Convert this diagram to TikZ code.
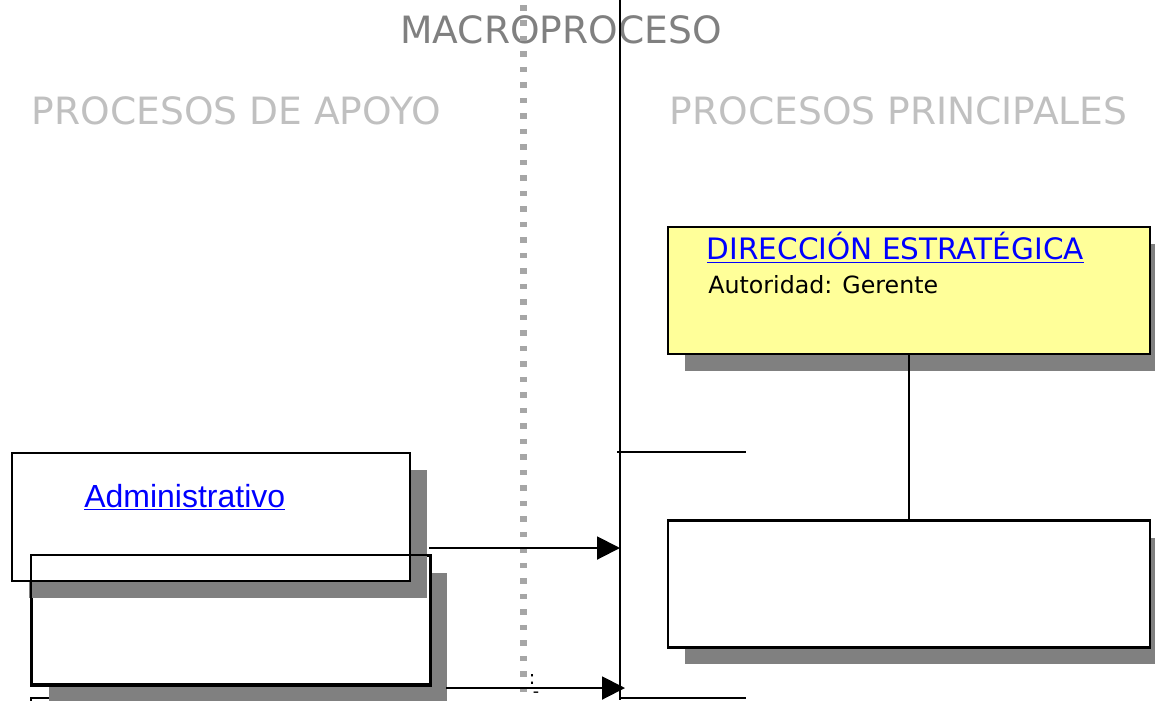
\documentclass[tikz,border=0pt]{standalone}
\usepackage{fontspec}
\setmainfont{DejaVu Sans}
\newfontfamily\arialfont{Liberation Sans}
\definecolor{mpyellow}{RGB}{255,255,153}
\definecolor{mpshadow}{RGB}{128,128,128}
\definecolor{mptitle}{RGB}{128,128,128}
\definecolor{mpsub}{RGB}{192,192,192}
\definecolor{mpdots}{RGB}{166,166,166}
\definecolor{mplink}{RGB}{0,0,255}
\usetikzlibrary{arrows.meta,positioning,shadows,calc}

\begin{document}
\begin{tikzpicture}[x=0.02cm,y=-0.02cm,
  procbox/.style={draw,line width=0.05cm,fill=white,minimum width=7.96cm,minimum height=2.56cm,
    inner sep=0pt,general shadow={fill=mpshadow,shadow xshift=0.34cm,shadow yshift=-0.34cm}},
  mainbox/.style={procbox,minimum width=9.64cm,minimum height=2.54cm},
  lanetitle/.style={font=\fontsize{21.4}{25}\selectfont,inner sep=0pt},
  conn/.style={line width=0.04cm},
  flow/.style={conn,-{Triangle[length=0.46cm,width=0.46cm]}}
]
  \useasboundingbox (0,0) rectangle (1155,700);
  \clip (0,0) rectangle (1155,700);

  % Titles
  \node[lanetitle,text=mptitle,anchor=base] (macro) at (561,43) {MACROPROCESO};
  \node[lanetitle,text=mpsub,anchor=base west] (apoyo) at (31.5,124) {PROCESOS DE APOYO};
  \node[lanetitle,text=mpsub,anchor=base west] (principales) at (669.5,124) {PROCESOS PRINCIPALES};

  % Support processes
  \node[procbox] (otro) at (230,762) {};
  \node[procbox] (apoyo2) at (231,620) {};
  \node[procbox] (admin) at (211,517) {};
  \draw[line width=0.05cm] (apoyo2.south west) rectangle (apoyo2.north east);
  \node[anchor=base west,inner sep=0pt,text=mplink,font=\arialfont\fontsize{18.2}{22}\selectfont]
    (admintxt) at (84,507) {\underline{Administrativo}};

  % Main processes
  \node[mainbox,fill=mpyellow] (dir) at (909,290.5) {};
  \node[anchor=base west,inner sep=0pt,text=mplink,font=\fontsize{16.8}{20}\selectfont]
    (dirtxt) at (706.5,259) {\underline{DIRECCIÓN ESTRATÉGICA}};
  \node[anchor=base west,inner sep=0pt,font=\fontsize{13.5}{16}\selectfont]
    (dirsub) at (708,293) {Autoridad: Gerente};
  \node[mainbox] (mid) at (909,584) {};

  % Lane dividers
  \coordinate (dottop) at (523,5);
  \coordinate (dotbot) at (523,700);
  \draw[mpdots,line width=0.14cm,dash pattern=on 0.11cm off 0.2cm] (dottop) -- (dotbot);
  \coordinate (lanetop) at (620,0);
  \coordinate (lanebot) at (620,700);
  \draw[conn] (lanetop) -- (lanebot);

  % Connectors
  \draw[conn] (dir.south) -- (mid.north);
  \coordinate (stub1a) at (617,452);
  \coordinate (stub1b) at (746,452);
  \draw[conn] (stub1a) -- (stub1b);
  \coordinate (stub2a) at (620,698);
  \coordinate (stub2b) at (746,698);
  \draw[conn] (stub2a) -- (stub2b);
  \coordinate (out1) at (429,548);
  \coordinate (in1) at (620,548);
  \draw[flow] (out1) -- (in1);
  \coordinate (out2) at (446,688);
  \coordinate (in2) at (625,688);
  \draw[flow] (out2) -- (in2);

  % Stray marks
  \node[inner sep=0pt,anchor=base,font=\fontsize{11}{13}\selectfont] (mark1) at (532,684) {:};
  \node[inner sep=0pt,anchor=base,font=\fontsize{10}{12}\selectfont] (mark2) at (536,697) {-};
\end{tikzpicture}
\end{document}
